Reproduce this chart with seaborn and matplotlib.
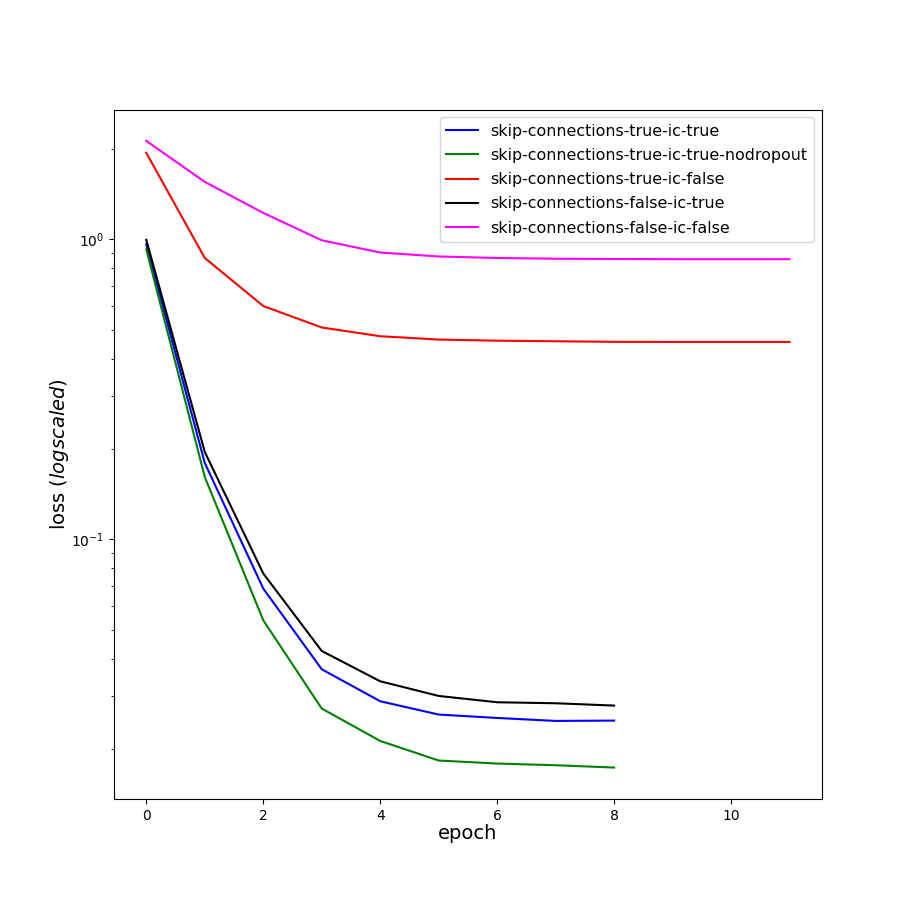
import matplotlib
matplotlib.use("Agg")
import matplotlib.pyplot as plt
import seaborn as sns
import pandas as pd

epochs_short = [0, 1, 2, 3, 4, 5, 6, 7, 8]
epochs_long = [0, 1, 2, 3, 4, 5, 6, 7, 8, 9, 10, 11]

loss_skip_true_ic_true = [0.962, 0.1796, 0.0685, 0.03687, 0.02884, 0.02604, 0.02537, 0.0248, 0.02486]
loss_skip_true_ic_true_nodropout = [0.926, 0.1613, 0.0537, 0.02727, 0.02127, 0.0183, 0.01788, 0.01765, 0.01734]
loss_skip_true_ic_false = [1.94, 0.866, 0.599, 0.508, 0.475, 0.463, 0.459, 0.457, 0.455, 0.4546, 0.4546, 0.4546]
loss_skip_false_ic_true = [0.995, 0.1954, 0.0769, 0.04243, 0.03362, 0.03004, 0.02862, 0.0284, 0.0279]
loss_skip_false_ic_false = [2.127, 1.553, 1.224, 0.992, 0.903, 0.876, 0.866, 0.861, 0.859, 0.858, 0.858, 0.858]

labels = [
    "skip-connections-true-ic-true",
    "skip-connections-true-ic-true-nodropout",
    "skip-connections-true-ic-false",
    "skip-connections-false-ic-true",
    "skip-connections-false-ic-false",
]
colors = ["blue", "green", "red", "black", "magenta"]

series = [
    (epochs_short, loss_skip_true_ic_true),
    (epochs_short, loss_skip_true_ic_true_nodropout),
    (epochs_long, loss_skip_true_ic_false),
    (epochs_short, loss_skip_false_ic_true),
    (epochs_long, loss_skip_false_ic_false),
]

fig = plt.figure(figsize=(9.13, 9.13), dpi=100)
ax = fig.add_axes([0.125, 0.125, 0.775, 0.755])

for (xs, ys), lab, col in zip(series, labels, colors):
    df = pd.DataFrame({"epoch": xs, "loss": ys})
    sns.lineplot(data=df, x="epoch", y="loss", color=col, label=lab, ax=ax, linewidth=1.5)

ax.set_yscale("log")
ax.set_xlabel("epoch", fontsize=14, labelpad=1)
ax.set_ylabel(r"loss ($\it{logscaled}$)", fontsize=14, labelpad=0)
ax.legend(loc="upper right", fontsize=11.4, labelspacing=0.58)

fig.savefig("out.png", dpi=100)
